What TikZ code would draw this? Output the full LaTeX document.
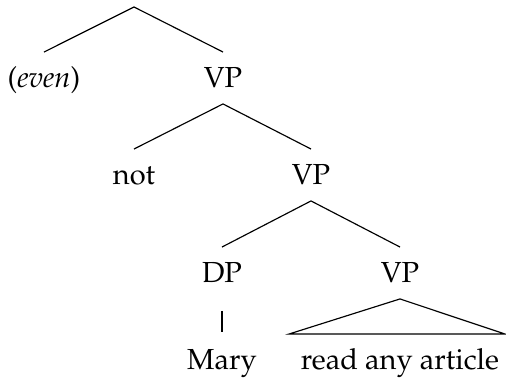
\documentclass[tikz,border=0pt]{standalone}
\usepackage[T1]{fontenc}
\usepackage{mathpazo}
\begin{document}
\begin{tikzpicture}[x=0.3448pt,y=-0.3448pt,
  cat/.style={inner xsep=1pt,inner ysep=0pt,text height=7pt,text depth=0pt,
    minimum height=0pt,anchor=base,
    append after command={}},
  edge/.style={line width=0.4pt},
  lab/.style={font=\fontsize{10}{12}\selectfont}]
\useasboundingbox (0,0) rectangle (506,385);
% root of the tree sits just inside the top edge
\coordinate (root) at (134,7);
% labels, placed on their baselines
\node[cat,lab] (even) at (44,88) {(\textit{even})};
\node[cat,lab] (vp1)  at (223,88) {VP};
\node[cat,lab] (not)  at (134,185) {not};
\node[cat,lab] (vp2)  at (311,185) {VP};
\node[cat,lab] (dp)   at (222,283) {DP};
\node[cat,lab] (vp3)  at (400,283) {VP};
\node[cat,lab] (mary) at (222,370) {Mary};
\node[cat,lab] (rany) at (400,370) {read any article};
% attachment points above and below each label
\foreach \n in {even,vp1,not,vp2,dp,vp3,mary,rany}{
  \coordinate (\n-t) at ([yshift=12.4pt]\n.base);
  \coordinate (\n-b) at ([yshift=-5.5pt]\n.base);
}
\draw[edge] (even-t) -- (root) -- (vp1-t);
\draw[edge] (not-t) -- (vp1-b) -- (vp2-t);
\draw[edge] (dp-t) -- (vp2-b) -- (vp3-t);
\draw[edge] ([yshift=-9.6pt]dp.base) -- ([yshift=-16.9pt]dp.base);
\draw[edge] (vp3-b) -- ([xshift=-111pt*0.3448]rany-t) -- ([xshift=105pt*0.3448]rany-t) -- cycle;
\end{tikzpicture}
\end{document}
